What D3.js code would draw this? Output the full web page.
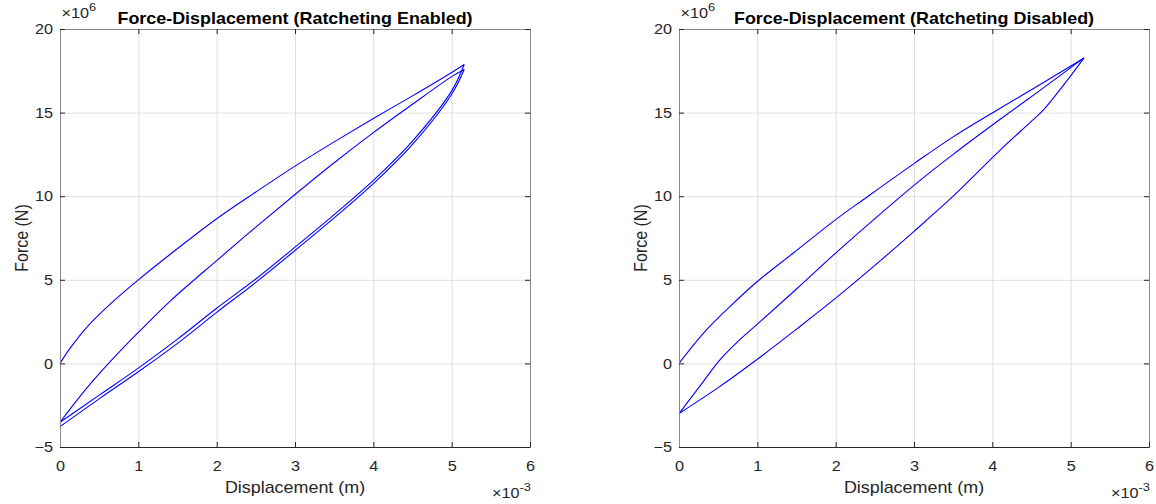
<!DOCTYPE html>
<html>
<head>
<meta charset="utf-8">
<script src="https://cdn.jsdelivr.net/npm/d3@7"></script>
<style>
  html, body { margin: 0; padding: 0; background: #fff; }
  svg { display: block; }
  text { font-family: "Liberation Sans", Arial, sans-serif; fill: #262626; }
</style>
</head>
<body>
<svg id="chart" width="1156" height="504"></svg>
<script>
// ---------- data (displacement in 1e-3 m, force in 1e6 N) ----------
const xTicks = [0, 1, 2, 3, 4, 5, 6];
const yTicks = [-5, 0, 5, 10, 15, 20];
const xDomain = [0, 6];
const yDomain = [-5, 20];

// Ratcheting enabled
const enLoad1X   = [0, 0.1, 0.2, 0.4, 0.7, 1.0, 1.4, 2.0, 2.5, 3.0, 3.5, 4.0, 4.5, 5.0, 5.16];
const enLoad1Y   = [0, 0.72, 1.35, 2.45, 3.8, 5.0, 6.5, 8.65, 10.25, 11.8, 13.25, 14.65, 16.0, 17.4, 17.88];
const enUnload1X = [5.16, 5.0, 4.5, 4.0, 3.5, 3.0, 2.5, 2.0, 1.5, 1.0, 0.5, 0];
const enUnload1Y = [17.88, 16.3, 13.3, 10.95, 8.9, 6.95, 5.05, 3.3, 1.45, -0.28, -1.9, -3.52];
const enLoad2X   = [0, 0.2, 0.4, 0.62, 0.8, 1.0, 1.4, 2.0, 2.5, 3.0, 3.5, 4.0, 4.5, 5.0, 5.16];
const enLoad2Y   = [-3.52, -2.3, -1.15, 0, 0.9, 1.85, 3.7, 6.15, 8.15, 10.1, 12.0, 13.8, 15.5, 17.15, 17.58];
const enUnload2X = [5.16, 5.0, 4.5, 4.0, 3.5, 3.0, 2.5, 2.0, 1.5, 1.0, 0.5, 0];
const enUnload2Y = [17.58, 16.1, 13.1, 10.75, 8.7, 6.75, 4.85, 3.05, 1.2, -0.5, -2.12, -3.78];

// Ratcheting disabled
const disLoad1X   = [0, 0.33, 0.65, 1.0, 1.46, 2.0, 2.37, 3.0, 3.5, 4.1, 4.6, 5.17];
const disLoad1Y   = [0, 1.9, 3.4, 4.9, 6.6, 8.6, 9.85, 11.95, 13.55, 15.26, 16.65, 18.27];
const disUnload1X = [5.17, 5.0, 4.65, 4.48, 4.1, 3.5, 3.0, 2.56, 2.0, 1.5, 1.0, 0.5, 0];
const disUnload1Y = [18.27, 17.2, 15.15, 14.4, 12.76, 10.0, 7.9, 6.1, 3.9, 2.05, 0.25, -1.45, -3.0];
const disLoad2X   = [0, 0.3, 0.52, 0.75, 1.0, 1.5, 2.0, 2.56, 3.0, 3.5, 4.1, 4.6, 5.17];
const disLoad2Y   = [-3.0, -1.15, 0.2, 1.3, 2.35, 4.45, 6.6, 8.9, 10.65, 12.5, 14.6, 16.3, 18.27];

const titles = ["Force-Displacement (Ratcheting Enabled)", "Force-Displacement (Ratcheting Disabled)"];
const xLabel = "Displacement (m)";
const yLabel = "Force (N)";

// ---------- layout ----------
const SX = 1.12; // horizontal text stretch of the reference
const panels = [
  { left: 60, title: titles[0], branches: [[enLoad1X, enLoad1Y], [enUnload1X, enUnload1Y], [enLoad2X, enLoad2Y], [enUnload2X, enUnload2Y]] },
  { left: 679, title: titles[1], branches: [[disLoad1X, disLoad1Y], [disUnload1X, disUnload1Y], [disLoad2X, disLoad2Y]] }
];
const plotTop = 29, plotBottom = 447, pw = 470;

const svg = d3.select("#chart");

panels.forEach(p => {
  const x = d3.scaleLinear().domain(xDomain).range([p.left, p.left + pw]);
  const y = d3.scaleLinear().domain(yDomain).range([plotBottom, plotTop]);
  const g = svg.append("g");

  // grid
  g.append("g").attr("transform", `translate(0,${plotBottom})`)
    .call(d3.axisBottom(x).tickValues(xTicks.slice(1, -1)).tickSize(-(plotBottom - plotTop)).tickFormat(""))
    .call(s => s.select(".domain").remove())
    .call(s => s.selectAll("line").attr("stroke", "#dfdfdf"));
  g.append("g").attr("transform", `translate(${p.left},0)`)
    .call(d3.axisLeft(y).tickValues(yTicks.slice(1, -1)).tickSize(-pw).tickFormat(""))
    .call(s => s.select(".domain").remove())
    .call(s => s.selectAll("line").attr("stroke", "#dfdfdf"));

  // data
  const line = d3.line().x(d => x(d[0])).y(d => y(d[1])).curve(d3.curveCatmullRom.alpha(0.5));
  p.branches.forEach(([bx, by]) => {
    g.append("path")
      .attr("d", line(bx.map((v, i) => [v, by[i]])))
      .attr("fill", "none").attr("stroke", "#0000ff").attr("stroke-width", 1.1);
  });

  // top/right box axes (ticks only)
  g.append("g").attr("transform", `translate(0,${plotTop})`)
    .call(d3.axisTop(x).tickValues(xTicks).tickSize(-5).tickSizeOuter(0).tickFormat(""))
    .call(s => s.select(".domain").attr("stroke", "#8a8a8a"))
    .call(s => s.selectAll("line").attr("stroke", "#262626"));
  g.append("g").attr("transform", `translate(${p.left + pw},0)`)
    .call(d3.axisRight(y).tickValues(yTicks).tickSize(-5).tickSizeOuter(0).tickFormat(""))
    .call(s => s.select(".domain").attr("stroke", "#8a8a8a"))
    .call(s => s.selectAll("line").attr("stroke", "#262626"));

  // bottom axis
  g.append("g").attr("transform", `translate(0,${plotBottom})`)
    .call(d3.axisBottom(x).tickValues(xTicks).tickSize(-5).tickSizeOuter(0).tickPadding(13.7).tickFormat(d3.format("d")))
    .call(s => s.select(".domain").attr("stroke", "#262626"))
    .call(s => s.selectAll("line").attr("stroke", "#262626"))
    .call(s => s.selectAll("text").attr("font-size", 14.5).attr("fill", "#262626")
      .attr("font-family", null).attr("transform", `scale(${SX},1)`));

  // left axis
  g.append("g").attr("transform", `translate(${p.left},0)`)
    .call(d3.axisLeft(y).tickValues(yTicks).tickSize(-5).tickSizeOuter(0).tickPadding(6.3).tickFormat(d3.format("d")))
    .call(s => s.select(".domain").attr("stroke", "#8a8a8a"))
    .call(s => s.selectAll("line").attr("stroke", "#262626"))
    .call(s => s.selectAll("text").attr("font-size", 14.5).attr("fill", "#262626")
      .attr("font-family", null).attr("transform", `scale(${SX},1)`));

  // title
  g.append("text")
    .attr("transform", `translate(${p.left + pw / 2},24) scale(${SX},1)`)
    .attr("text-anchor", "middle").attr("font-size", 16).attr("font-weight", "bold")
    .style("fill", "#000").text(p.title);

  // x label
  g.append("text")
    .attr("transform", `translate(${p.left + pw / 2},493) scale(${SX},1)`)
    .attr("text-anchor", "middle").attr("font-size", 16).text(xLabel);

  // y label
  g.append("text")
    .attr("transform", `translate(${p.left - 32},${(plotTop + plotBottom) / 2}) rotate(-90) scale(1,${SX})`)
    .attr("text-anchor", "middle").attr("font-size", 16).text(yLabel);

  // exponent labels
  const ey = g.append("text")
    .attr("transform", `translate(${p.left + 1.5},17.5) scale(${SX},1)`)
    .attr("font-size", 14.5);
  ey.append("tspan").text("\u00d710");
  ey.append("tspan").attr("font-size", 11.5).attr("dy", -6.5).text("6");

  const ex = g.append("text")
    .attr("transform", `translate(${p.left + pw + 1},497.5) scale(${SX},1)`)
    .attr("text-anchor", "end").attr("font-size", 14.5);
  ex.append("tspan").text("\u00d710");
  ex.append("tspan").attr("font-size", 11.5).attr("dy", -6.5).text("-3");
});
</script>
</body>
</html>
